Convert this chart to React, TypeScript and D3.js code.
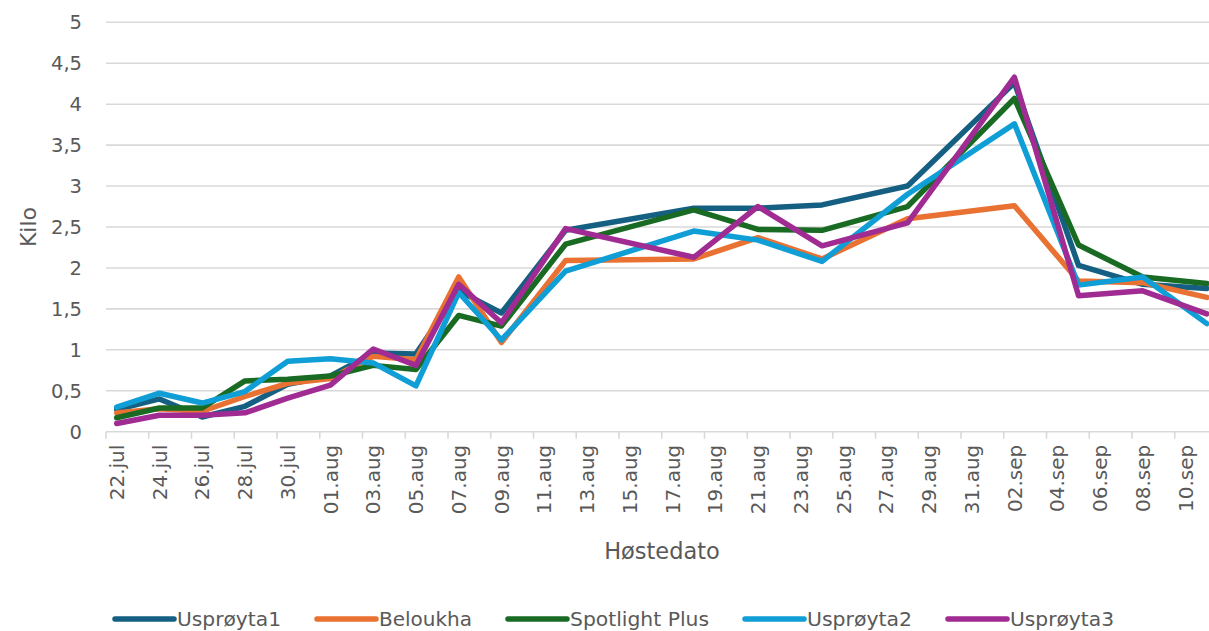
import React from "react";
import * as d3 from "d3";

// Harvest dates (day.month) where values were recorded
const dates = [
  "22.jul", "24.jul", "26.jul", "28.jul", "30.jul", "01.aug", "03.aug", "05.aug",
  "07.aug", "09.aug", "12.aug", "18.aug", "21.aug", "24.aug", "28.aug", "02.sep",
  "05.sep", "08.sep", "11.sep",
];

const usproyta1 = [0.27, 0.40, 0.18, 0.31, 0.58, 0.68, 0.96, 0.95, 1.72, 1.45, 2.46, 2.73, 2.73, 2.77, 3.0, 4.26, 2.03, 1.80, 1.75];
const beloukha = [0.23, 0.28, 0.25, 0.43, 0.59, 0.65, 0.92, 0.88, 1.89, 1.09, 2.09, 2.11, 2.37, 2.11, 2.60, 2.76, 1.84, 1.82, 1.64];
const spotlightPlus = [0.17, 0.29, 0.29, 0.62, 0.64, 0.68, 0.81, 0.76, 1.42, 1.29, 2.29, 2.71, 2.47, 2.46, 2.75, 4.07, 2.28, 1.89, 1.81];
const usproyta2 = [0.30, 0.47, 0.35, 0.49, 0.86, 0.89, 0.84, 0.56, 1.70, 1.12, 1.96, 2.45, 2.34, 2.08, 2.90, 3.76, 1.79, 1.89, 1.32];
const usproyta3 = [0.10, 0.20, 0.20, 0.23, 0.41, 0.57, 1.01, 0.81, 1.80, 1.33, 2.48, 2.13, 2.75, 2.27, 2.55, 4.33, 1.66, 1.72, 1.44];

const seriesNames = ["Usprøyta1", "Beloukha", "Spotlight Plus", "Usprøyta2", "Usprøyta3"];
const seriesValues = [usproyta1, beloukha, spotlightPlus, usproyta2, usproyta3];
const seriesColors = ["#156082", "#E97132", "#196B24", "#0F9ED5", "#A02B93"];

const yTicks = [0, 0.5, 1, 1.5, 2, 2.5, 3, 3.5, 4, 4.5, 5];
const monthNames = ["jan", "feb", "mar", "apr", "mai", "jun", "jul", "aug", "sep", "okt", "nov", "des"];
const axisStart = new Date(2024, 6, 22);
const axisEnd = new Date(2024, 8, 12); // exclusive: last day 11.sep

const W = 1209;
const H = 631;
const M = { left: 106, right: 1217.5, top: 22.3, bottom: 431.7 };
const TEXT = "#595959";
const GRID = "#d9d9d9";
const FONT = "'DejaVu Sans', 'Liberation Sans', Arial, sans-serif";

const fmtDay = (d: Date) => d3.timeFormat("%d")(d) + "." + monthNames[d.getMonth()];

export default function App() {
  const days = d3.timeDay.range(axisStart, axisEnd).map(fmtDay);
  const x = d3.scaleBand<string>().domain(days).range([M.left, M.right]).padding(0);
  const y = d3.scaleLinear().domain([0, 5]).range([M.bottom, M.top]);
  const bw = x.bandwidth();
  const cx = (k: string) => (x(k) as number) + bw / 2;

  const line = d3
    .line<number>()
    .x((_, i) => cx(dates[i]))
    .y((v) => y(v));

  const labelDays = days.filter((_, i) => i % 2 === 0);
  const tickXs = days.filter((_, i) => i % 2 === 0).map((d) => x(d) as number).concat([M.right]);

  // legend layout
  const legendWidths = [104, 93, 139, 105, 104];
  const sampleLen = 59;
  const legendY = 619;
  let lx = 115;
  const legendItems = seriesNames.map((name, i) => {
    const item = { name, color: seriesColors[i], x: lx, tw: legendWidths[i] };
    lx += sampleLen + 4 + legendWidths[i] + 35;
    return item;
  });

  return (
    <svg
      width={W}
      height={H}
      style={{ position: "absolute", left: 0, top: 0, background: "#fff" }}
      fontFamily={FONT}
    >
      <rect x={0} y={0} width={W} height={H} fill="#fff" />
      {/* gridlines */}
      {yTicks.map((t) => (
        <line key={t} x1={M.left} x2={M.right} y1={y(t)} y2={y(t)} stroke={GRID} strokeWidth={1.6} />
      ))}
      {/* x tick marks */}
      {tickXs.map((tx, i) => (
        <line key={i} x1={tx} x2={tx} y1={M.bottom} y2={M.bottom + 7} stroke={GRID} strokeWidth={1.6} />
      ))}
      {/* y labels */}
      {yTicks.map((t) => (
        <text key={t} x={82} y={y(t)} dy="0.36em" textAnchor="end" fontSize={19.5} fill={TEXT}>
          {String(t).replace(".", ",")}
        </text>
      ))}
      {/* x labels */}
      {labelDays.map((d) => (
        <text
          key={d}
          transform={`translate(${cx(d)},${M.bottom + 13}) rotate(-90)`}
          dy="0.36em"
          textAnchor="end"
          fontSize={20}
          fill={TEXT}
        >
          {d}
        </text>
      ))}
      {/* axis titles */}
      <text transform={`translate(28,${(M.top + M.bottom) / 2}) rotate(-90)`} dy="0.36em" textAnchor="middle" fontSize={22} fill={TEXT}>
        Kilo
      </text>
      <text x={662} y={559} textAnchor="middle" fontSize={22.5} fill={TEXT}>
        Høstedato
      </text>
      {/* series */}
      {seriesValues.map((vals, i) => (
        <path
          key={seriesNames[i]}
          d={line(vals) || ""}
          fill="none"
          stroke={seriesColors[i]}
          strokeWidth={5.5}
          strokeLinejoin="round"
          strokeLinecap="round"
        />
      ))}
      {/* legend */}
      {legendItems.map((it) => (
        <g key={it.name}>
          <line x1={it.x} x2={it.x + sampleLen} y1={legendY} y2={legendY} stroke={it.color} strokeWidth={5.5} strokeLinecap="round" />
          <text
            x={it.x + sampleLen + 3}
            y={legendY}
            dy="0.36em"
            fontSize={20}
            fill={TEXT}
            fontFamily="'DejaVu Sans Condensed', 'Liberation Sans Narrow', 'DejaVu Sans', sans-serif"
            textLength={it.tw}
            lengthAdjust="spacingAndGlyphs"
          >
            {it.name}
          </text>
        </g>
      ))}
    </svg>
  );
}
